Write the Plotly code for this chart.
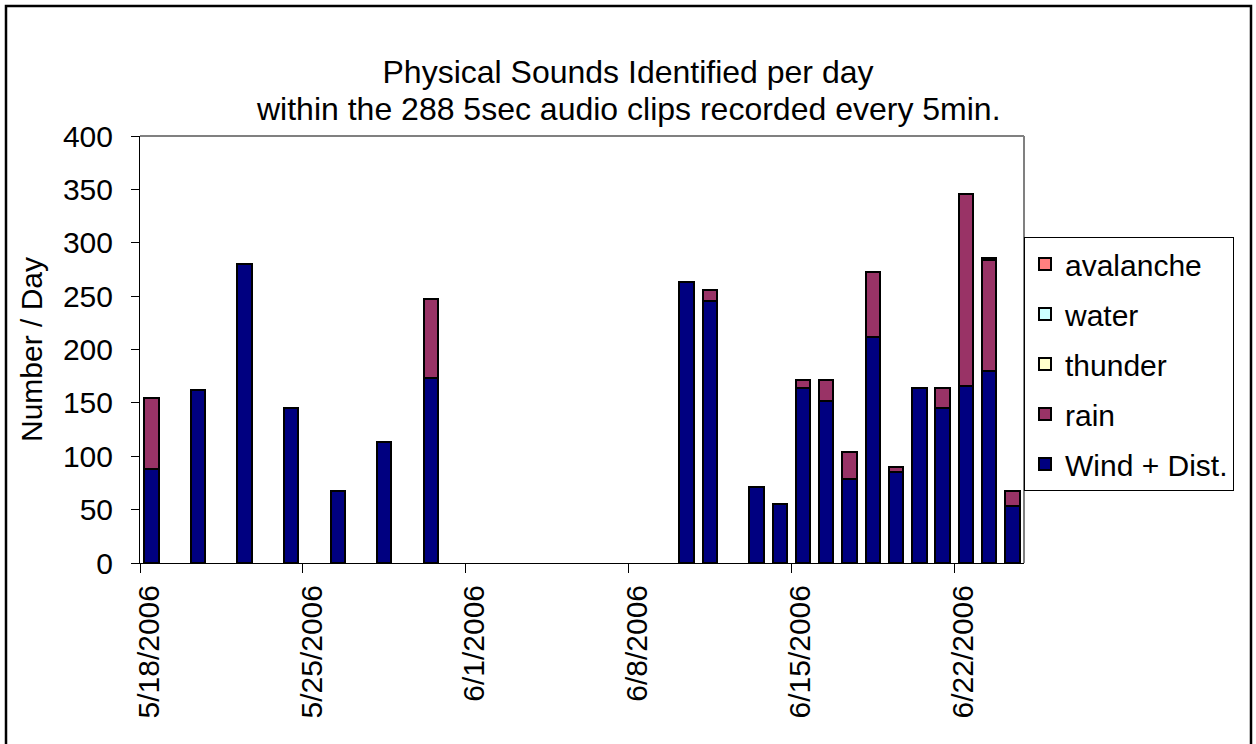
import plotly.graph_objects as go

# days with recordings
dates = ["2006-05-18", "2006-05-20", "2006-05-22", "2006-05-24", "2006-05-26",
         "2006-05-28", "2006-05-30", "2006-06-10", "2006-06-11", "2006-06-13",
         "2006-06-14", "2006-06-15", "2006-06-16", "2006-06-17", "2006-06-18",
         "2006-06-19", "2006-06-20", "2006-06-21", "2006-06-22", "2006-06-23",
         "2006-06-24"]

wind = [88, 162, 280, 145, 67, 113, 173, 263, 245, 71, 55,
        164, 152, 79, 212, 85, 164, 145, 166, 180, 53]
rain = [67, None, None, None, None, None, 74, None, 11, None, None,
        7, 19, 25, 61, 5, None, 19, 180, 104, 14]
thunder = [None] * 19 + [2, None]
water = [None] * 21
avalanche = [None] * 21

series = [
    ("Wind + Dist.", wind, "#000080"),
    ("rain", rain, "#993366"),
    ("thunder", thunder, "#FFFFCC"),
    ("water", water, "#CCFFFF"),
    ("avalanche", avalanche, "#FF8080"),
]

DAY_MS = 86400000
FONT = "Liberation Sans, Arial, sans-serif"

fig = go.Figure()
for i, (name, vals, color) in enumerate(series):
    fig.add_trace(go.Bar(
        name=name,
        x=dates,
        y=vals,
        xperiod=DAY_MS,
        xperiodalignment="middle",
        width=0.62 * DAY_MS,
        marker=dict(color=color, line=dict(color="black", width=2)),
        legendgroup=name,
        legendrank=len(series) - i,
    ))

# plot area geometry (px)
L, R, T, B = 140, 232, 136, 181
W = 1256 - L - R
H = 744 - T - B

fig.update_layout(
    width=1256,
    height=744,
    barmode="stack",
    paper_bgcolor="white",
    plot_bgcolor="white",
    margin=dict(l=L, r=R, t=T, b=B),
    font=dict(family=FONT, size=30, color="black"),
    title=dict(
        text="Physical Sounds Identified per day",
        x=0.5, xanchor="center", xref="container",
        y=1 - 72 / 744, yanchor="middle",
        font=dict(family=FONT, size=32, color="black"),
    ),
    legend=dict(
        x=1.0, xanchor="left",
        y=(744 - B - 237) / H, yanchor="top",
        traceorder="grouped",
        tracegroupgap=8,
        bordercolor="black", borderwidth=1,
        bgcolor="white",
        font=dict(family=FONT, size=30),
    ),
    bargap=0,
    showlegend=True,
)

# second title line
fig.add_annotation(
    text="within the 288 5sec audio clips recorded every 5min.",
    xref="paper", yref="paper",
    x=(628 - L) / W, y=(744 - B - 109) / H,
    xanchor="center", yanchor="middle",
    showarrow=False,
    font=dict(family=FONT, size=32, color="black"),
)

fig.update_xaxes(
    type="date",
    range=["2006-05-18", "2006-06-25"],
    tick0="2006-05-18",
    dtick=7 * DAY_MS,
    tickformat="%-m/%-d/%Y",
    tickangle=-90,
    ticks="outside",
    ticklen=9,
    tickcolor="black",
    showline=True,
    linecolor="black",
    linewidth=1,
    showgrid=False,
    zeroline=False,
    ticklabelshift=9,
    tickfont=dict(family=FONT, size=30),
)

fig.update_yaxes(
    range=[0, 400],
    dtick=50,
    ticks="outside",
    ticklen=8,
    tickcolor="black",
    showline=True,
    linecolor="black",
    linewidth=1,
    showgrid=False,
    zeroline=False,
    ticklabelstandoff=12,
    tickfont=dict(family=FONT, size=30),
    title=dict(text="Number / Day", standoff=11, font=dict(family=FONT, size=30)),
)

# grey top/right border of the plot area
fig.add_shape(type="line", xref="paper", yref="paper", x0=0, x1=1, y0=1, y1=1,
              line=dict(color="#808080", width=2))
fig.add_shape(type="line", xref="paper", yref="paper", x0=1, x1=1, y0=0, y1=1,
              line=dict(color="#808080", width=2))

# black frame around the whole chart
fig.add_shape(type="rect", xref="paper", yref="paper",
              x0=(6 - L) / W, x1=(1251 - L) / W,
              y0=(744 - B - 748) / H, y1=(744 - B - 6) / H,
              line=dict(color="black", width=2.5))

fig.write_html("out.html", config={"displayModeBar": False},
               post_script="document.body.style.margin='0';")
